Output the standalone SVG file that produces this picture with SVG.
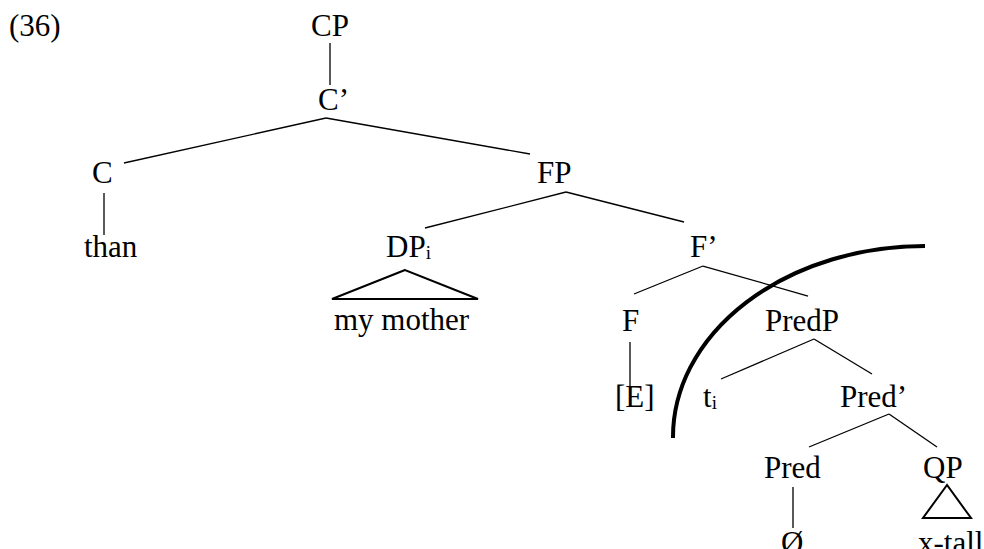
<svg xmlns="http://www.w3.org/2000/svg" width="984" height="549" viewBox="0 0 984 549">
<style>
text{font-family:"Liberation Serif","Tinos","DejaVu Serif",serif;font-size:31px;fill:#000}
.sub{font-size:19px}
.e{stroke:#000;stroke-width:1.3;fill:none}
.tri{stroke:#000;stroke-width:2;fill:none;stroke-linejoin:miter}
.arc{stroke:#000;stroke-width:4;fill:none}
</style>
<rect width="984" height="549" fill="#fff"/>
<text x="9" y="36">(36)</text>
<g id="connectors">
<line class="e" x1="330" y1="43" x2="330" y2="85"/>
<line class="e" x1="326" y1="118" x2="124" y2="163"/>
<line class="e" x1="326" y1="118" x2="530" y2="154"/>
<line class="e" x1="104" y1="193" x2="104" y2="235"/>
<line class="e" x1="566" y1="192" x2="425" y2="228"/>
<line class="e" x1="566" y1="192" x2="684" y2="222"/>
<line class="e" x1="703" y1="266" x2="634" y2="294"/>
<line class="e" x1="703" y1="266" x2="808" y2="296"/>
<line class="e" x1="630" y1="342" x2="630" y2="392"/>
<line class="e" x1="814" y1="339" x2="721" y2="379"/>
<line class="e" x1="814" y1="339" x2="872" y2="374"/>
<line class="e" x1="889" y1="414" x2="809" y2="447"/>
<line class="e" x1="889" y1="414" x2="937" y2="447"/>
<line class="e" x1="793" y1="487" x2="793" y2="528"/>
</g>
<g id="CP"><text x="311" y="36">CP</text></g>
<g id="Cbar"><text x="318" y="110">C’</text></g>
<g id="C"><text x="92" y="183">C</text></g>
<g id="than"><text x="84" y="257">than</text></g>
<g id="FP"><text x="537" y="183">FP</text></g>
<g id="DP"><text x="386" y="257">DP<tspan class="sub" dy="2">i</tspan></text>
<polygon class="tri" points="405,270 332,299 478,299"/></g>
<g id="mymother"><text x="334" y="330">my mother</text></g>
<g id="Fbar"><text x="690" y="257">F’</text></g>
<g id="F"><text x="622" y="331">F</text></g>
<g id="E"><text x="615" y="407">[E]</text></g>
<g id="PredP"><text x="765" y="331">PredP</text></g>
<g id="ti"><text x="703" y="407">t<tspan class="sub" dy="2">i</tspan></text></g>
<g id="Predbar"><text x="840" y="407">Pred’</text></g>
<g id="Pred"><text x="764" y="478">Pred</text></g>
<g id="QP"><text x="923" y="478">QP</text>
<polygon class="tri" points="947,485 923,518 971,518"/></g>
<g id="empty"><text x="781" y="553">Ø</text></g>
<g id="xtall"><text x="918" y="553">x-tall</text></g>
<g id="ellipsis-arc"><path class="arc" d="M 925 246 A 252 191 0 0 0 673 438"/></g>
</svg>
